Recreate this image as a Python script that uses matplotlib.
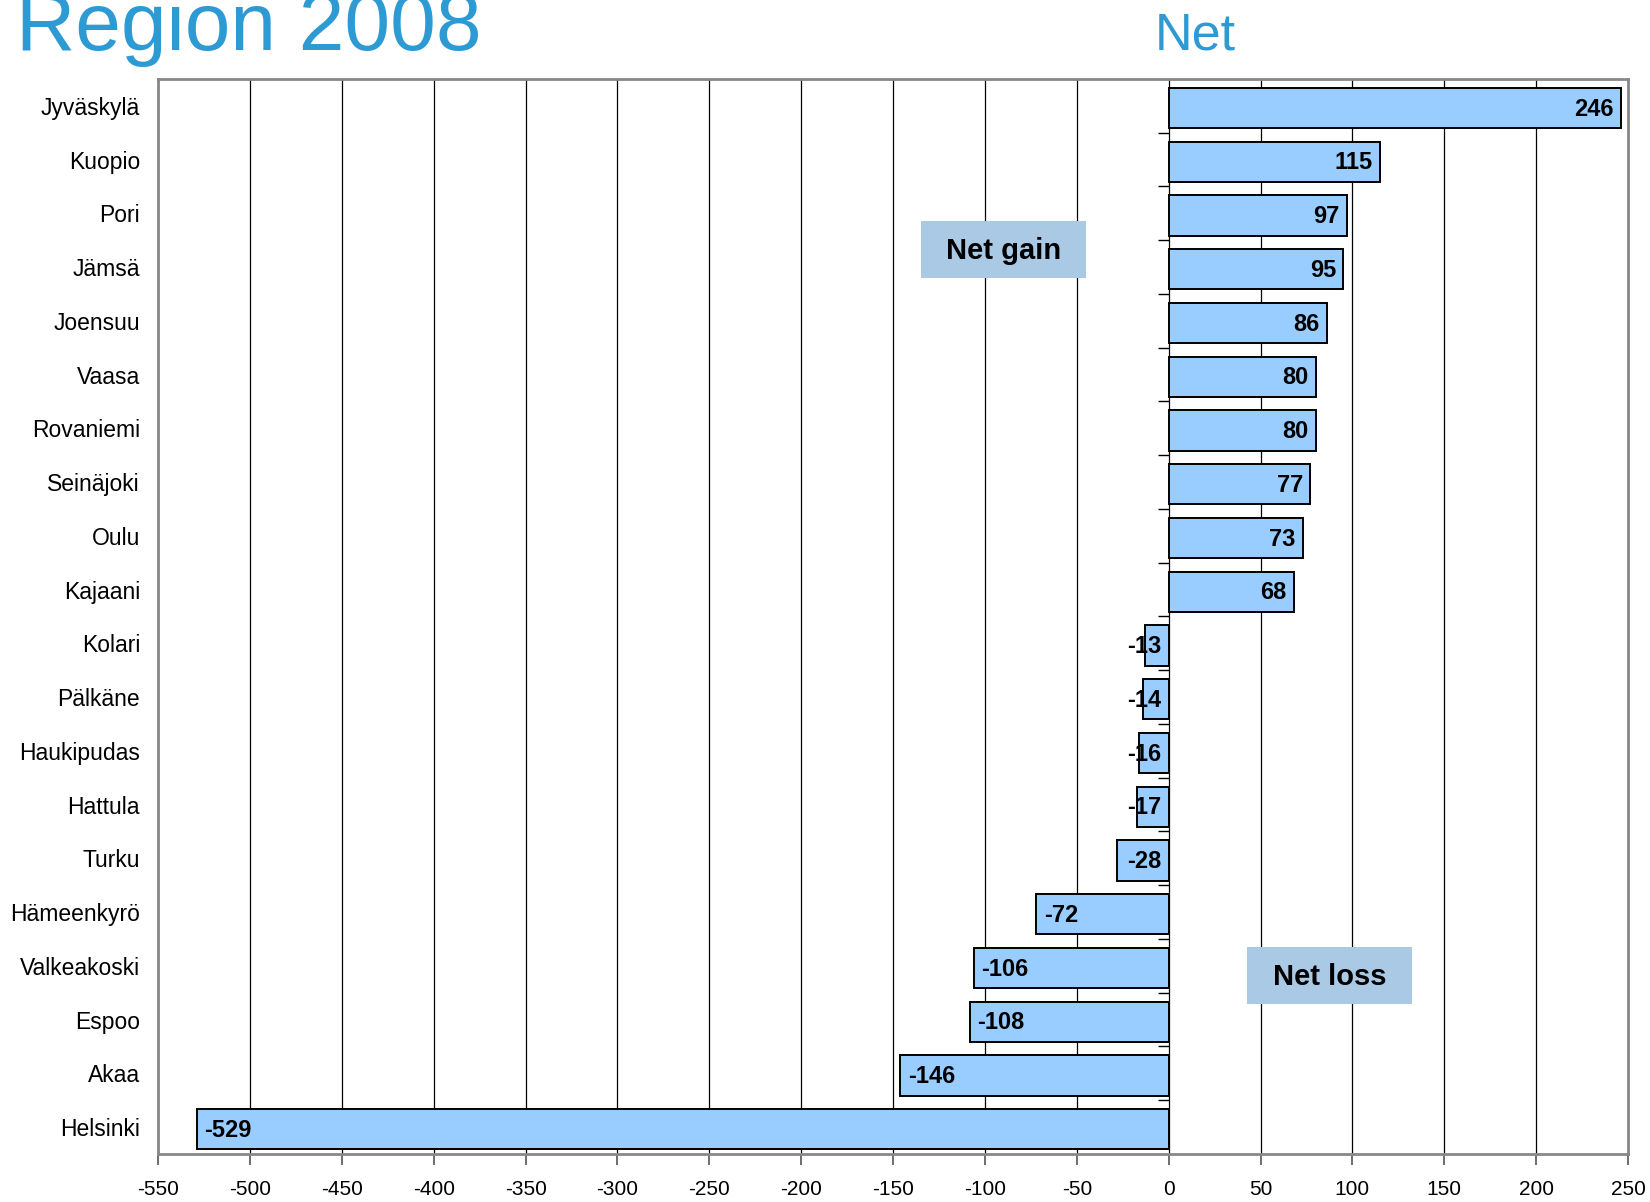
import numpy as np
import matplotlib
matplotlib.use("Agg")
import matplotlib.pyplot as plt
from matplotlib.patches import Rectangle

plt.rcParams['font.family'] = ['Liberation Sans', 'DejaVu Sans']

# data
regions = ['Jyväskylä', 'Kuopio', 'Pori', 'Jämsä', 'Joensuu', 'Vaasa', 'Rovaniemi',
           'Seinäjoki', 'Oulu', 'Kajaani', 'Kolari', 'Pälkäne', 'Haukipudas', 'Hattula',
           'Turku', 'Hämeenkyrö', 'Valkeakoski', 'Espoo', 'Akaa', 'Helsinki']
net = [246, 115, 97, 95, 86, 80, 80, 77, 73, 68,
       -13, -14, -16, -17, -28, -72, -106, -108, -146, -529]
x_ticks = list(range(-550, 251, 50))

blue = '#2E9AD4'
bar_col = '#99CCFF'
box_col = '#A9C9E5'

fig = plt.figure(figsize=(16.5, 12.02), dpi=100)
ax = fig.add_axes([0.0958, 0.040, 0.8909, 0.8943])

y = np.arange(len(regions))
ax.barh(y + 0.04, net, height=0.75, color=bar_col, edgecolor='black', linewidth=1.4, zorder=3)

ax.set_xlim(-550, 250)
ax.set_ylim(len(regions) - 0.5, -0.5)
ax.set_xticks(x_ticks)
ax.set_xticklabels([str(t) for t in x_ticks], fontsize=15)
ax.set_yticks(y)
ax.set_yticklabels(regions, fontsize=16.5)
ax.tick_params(axis='y', length=0, pad=13)
ax.tick_params(axis='x', direction='out', length=8, width=1.2, color='#555555', pad=11)

ax.grid(axis='x', color='black', linewidth=0.9, zorder=1)
ax.set_axisbelow(True)
for s in ax.spines.values():
    s.set_color('#888888')
    s.set_linewidth(2)

# small category ticks on the zero line
ax.hlines(y[:-1] + 0.5, -6, 0, color='black', linewidth=1, zorder=2)

# value labels
pad = 4
for yi, v in zip(y + 0.06, net):
    if v > 0:
        ax.text(v - pad, yi, str(v), ha='right', va='center', fontsize=17,
                fontweight='bold', zorder=4)
    elif v > -40:
        ax.text(-pad, yi, str(v), ha='right', va='center', fontsize=17,
                fontweight='bold', zorder=4)
    else:
        ax.text(v + pad, yi, str(v), ha='left', va='center', fontsize=17,
                fontweight='bold', zorder=4)

# annotation boxes
for (x0, x1, y0, y1, label) in [(-134.7, -45, 2.14, 3.2, 'Net gain'),
                                 (42.7, 132.5, 15.65, 16.71, 'Net loss')]:
    ax.add_patch(Rectangle((x0, y0), x1 - x0, y1 - y0, facecolor=box_col,
                           edgecolor='none', zorder=5))
    ax.text((x0 + x1) / 2, (y0 + y1) / 2 + 0.03, label, ha='center', va='center',
            fontsize=21, fontweight='bold', zorder=6)

fig.text(16 / 1650, 1 - 50 / 1202, 'Region 2008', fontsize=59, color=blue,
         ha='left', va='baseline')
fig.text(1155 / 1650, 1 - 49 / 1202, 'Net', fontsize=37.5, color=blue,
         ha='left', va='baseline')

fig.savefig('out.png', dpi=100)
